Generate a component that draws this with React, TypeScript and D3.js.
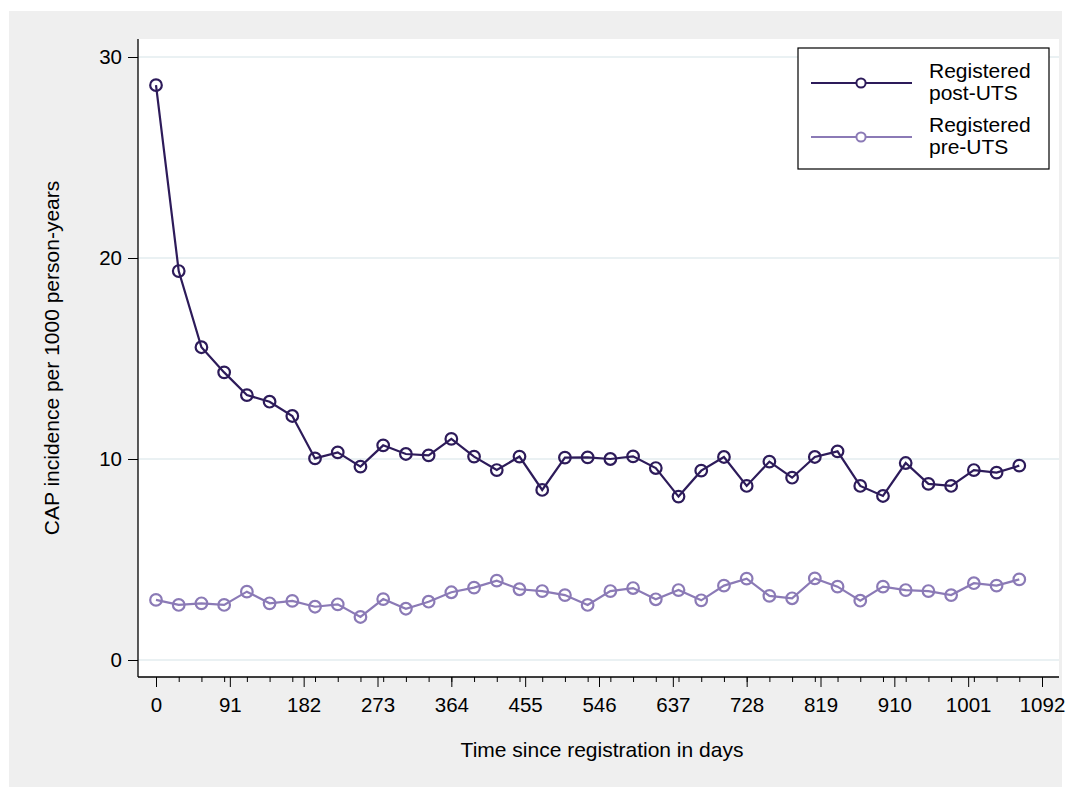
import { useEffect, useRef } from "react";
import * as d3 from "d3";

// days since registration (28-day bins)
const days = [
  0, 28, 56, 84, 112, 140, 168, 196, 224, 252, 280, 308, 336, 364, 392, 420, 448, 476, 504, 532,
  560, 588, 616, 644, 672, 700, 728, 756, 784, 812, 840, 868, 896, 924, 952, 980, 1008, 1036, 1064,
];

const postUTS = [
  28.6, 19.35, 15.56, 14.31, 13.18, 12.85, 12.14, 10.03, 10.33, 9.62, 10.68, 10.25, 10.18, 11.0,
  10.12, 9.45, 10.12, 8.46, 10.07, 10.08, 10.0, 10.13, 9.55, 8.13, 9.42, 10.1, 8.66, 9.87, 9.07,
  10.1, 10.38, 8.66, 8.16, 9.8, 8.76, 8.66, 9.45, 9.32, 9.67,
];

const preUTS = [
  2.99, 2.74, 2.82, 2.74, 3.4, 2.82, 2.94, 2.65, 2.77, 2.14, 3.03, 2.55, 2.9, 3.37, 3.6, 3.95,
  3.52, 3.43, 3.23, 2.74, 3.43, 3.58, 3.02, 3.48, 2.97, 3.7, 4.05, 3.19, 3.07, 4.06, 3.65, 2.95,
  3.65, 3.48, 3.43, 3.23, 3.82, 3.7, 4.01,
];

const xTicks = [0, 91, 182, 273, 364, 455, 546, 637, 728, 819, 910, 1001, 1092];
const xMinorTicks = [
  0, 28, 56, 84, 112, 140, 168, 196, 224, 252, 280, 308, 336, 364, 392, 420, 448, 476, 504, 532,
  560, 588, 616, 644, 672, 700, 728, 756, 784, 812, 840, 868, 896, 924, 952, 980, 1008, 1036, 1064,
  1092,
];
const yTicks = [0, 10, 20, 30];

const series = [
  { label: ["Registered", "post-UTS"], values: postUTS, color: "#2D1B5A" },
  { label: ["Registered", "pre-UTS"], values: preUTS, color: "#8B7AB6" },
];

const W = 1073;
const H = 787;
const FONT = "'Liberation Sans', Arial, sans-serif";

export default function App() {
  const ref = useRef<SVGSVGElement>(null);

  useEffect(() => {
    document.body.style.margin = "0";
    if (!ref.current) return;
    const root = d3.select(ref.current);
    root.selectAll("*").remove();

    const plot = { left: 138, right: 1059, top: 39, bottom: 677 };

    const x = d3.scaleLinear().domain([0, 1092]).range([156, 1042]);
    const y = d3.scaleLinear().domain([0, 30]).range([660, 57]);

    // outer gray background
    root
      .append("rect")
      .attr("x", 9)
      .attr("y", 11)
      .attr("width", 1053)
      .attr("height", H - 11)
      .attr("fill", "#EFEFEF");

    root
      .append("rect")
      .attr("x", plot.left)
      .attr("y", plot.top)
      .attr("width", plot.right - plot.left)
      .attr("height", plot.bottom - plot.top)
      .attr("fill", "#ffffff");

    // gridlines
    root
      .append("g")
      .selectAll("line")
      .data(yTicks)
      .enter()
      .append("line")
      .attr("x1", plot.left)
      .attr("x2", plot.right)
      .attr("y1", (d) => y(d))
      .attr("y2", (d) => y(d))
      .attr("stroke", "#E3ECEF")
      .attr("stroke-width", 1.6);

    // y axis
    const yAxis = root
      .append("g")
      .attr("transform", `translate(${plot.left},0)`)
      .call(d3.axisLeft(y).tickValues(yTicks).tickSize(10).tickPadding(6).tickFormat(d3.format("d")));
    yAxis.select(".domain").remove();
    yAxis.selectAll("text").attr("font-size", 20.5).attr("font-family", FONT).attr("fill", "#000");
    yAxis.selectAll("line").attr("stroke", "#000");

    // x axis: minor ticks then major
    const xMinor = root
      .append("g")
      .attr("transform", `translate(0,${plot.bottom})`)
      .call(d3.axisBottom(x).tickValues(xMinorTicks).tickSize(5).tickFormat(() => ""));
    xMinor.select(".domain").remove();
    xMinor.selectAll("line").attr("stroke", "#000");

    const xAxis = root
      .append("g")
      .attr("transform", `translate(0,${plot.bottom})`)
      .call(d3.axisBottom(x).tickValues(xTicks).tickSize(10).tickPadding(10).tickFormat(d3.format("d")));
    xAxis.select(".domain").remove();
    xAxis.selectAll("text").attr("font-size", 20.5).attr("font-family", FONT).attr("fill", "#000");
    xAxis.selectAll("line").attr("stroke", "#000");

    // axis lines
    root
      .append("line")
      .attr("x1", plot.left)
      .attr("x2", plot.left)
      .attr("y1", plot.top)
      .attr("y2", plot.bottom)
      .attr("stroke", "#000")
      .attr("stroke-width", 1.3);
    root
      .append("line")
      .attr("x1", plot.left)
      .attr("x2", plot.right)
      .attr("y1", plot.bottom)
      .attr("y2", plot.bottom)
      .attr("stroke", "#000")
      .attr("stroke-width", 1.3);

    // titles
    root
      .append("text")
      .attr("x", 602)
      .attr("y", 757)
      .attr("text-anchor", "middle")
      .attr("font-family", FONT)
      .attr("font-size", 21)
      .text("Time since registration in days");

    root
      .append("text")
      .attr("transform", `translate(59,${(plot.top + plot.bottom) / 2}) rotate(-90)`)
      .attr("text-anchor", "middle")
      .attr("font-family", FONT)
      .attr("font-size", 21)
      .text("CAP incidence per 1000 person-years");

    // series (pre drawn first, post on top)
    const line = d3
      .line<number>()
      .x((_, i) => x(days[i]))
      .y((d) => y(d));

    [...series].reverse().forEach((s) => {
      const g = root.append("g");
      g.append("path")
        .attr("d", line(s.values))
        .attr("fill", "none")
        .attr("stroke", s.color)
        .attr("stroke-width", 2.2);
      g.selectAll("circle")
        .data(s.values)
        .enter()
        .append("circle")
        .attr("cx", (_, i) => x(days[i]))
        .attr("cy", (d) => y(d))
        .attr("r", 5.8)
        .attr("fill", "none")
        .attr("stroke", s.color)
        .attr("stroke-width", 2.2);
    });

    // legend
    const legend = root.append("g");
    legend
      .append("rect")
      .attr("x", 798)
      .attr("y", 48)
      .attr("width", 251)
      .attr("height", 121)
      .attr("fill", "#fff")
      .attr("stroke", "#000")
      .attr("stroke-width", 1.2);

    series.forEach((s, i) => {
      const cy = 83 + i * 54;
      legend
        .append("line")
        .attr("x1", 811)
        .attr("x2", 912)
        .attr("y1", cy)
        .attr("y2", cy)
        .attr("stroke", s.color)
        .attr("stroke-width", 2.2);
      legend
        .append("circle")
        .attr("cx", 861)
        .attr("cy", cy)
        .attr("r", 4.6)
        .attr("fill", "#fff")
        .attr("stroke", s.color)
        .attr("stroke-width", 2);
      const t = legend
        .append("text")
        .attr("x", 929)
        .attr("y", cy - 5)
        .attr("font-family", FONT)
        .attr("font-size", 21);
      s.label.forEach((l, j) => {
        t.append("tspan")
          .attr("x", 929)
          .attr("dy", j === 0 ? 0 : 22)
          .text(l);
      });
    });
  }, []);

  return <svg ref={ref} width={W} height={H} style={{ display: "block" }} />;
}
